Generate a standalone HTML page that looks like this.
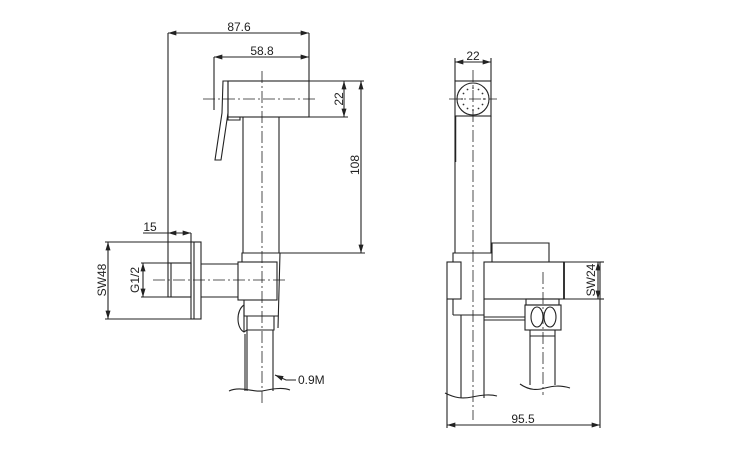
<!DOCTYPE html>
<html><head><meta charset="utf-8"><style>
html,body{margin:0;padding:0;background:#fff;}
svg{display:block;}
text{font-family:"Liberation Sans",sans-serif;font-size:12px;fill:#222;}
</style></head><body>
<svg width="740" height="460" viewBox="0 0 740 460" xmlns="http://www.w3.org/2000/svg">
<defs>
<marker id="a" viewBox="0 0 10 6" refX="10" refY="3" markerWidth="9" markerHeight="5" orient="auto-start-reverse" markerUnits="userSpaceOnUse"><path d="M0,0L10,3L0,6z" fill="#222"/></marker>
</defs>
<g fill="none" stroke="#222" stroke-width="1.1">
<line x1="168" y1="33" x2="309" y2="33" marker-start="url(#a)" marker-end="url(#a)"/>
<line x1="168" y1="33" x2="168" y2="263"/>
<line x1="309" y1="33" x2="309" y2="81"/>
<line x1="214" y1="57" x2="309" y2="57" marker-start="url(#a)" marker-end="url(#a)"/>
<line x1="214" y1="57" x2="214" y2="110"/>
<line x1="309" y1="81" x2="364" y2="81"/>
<line x1="309" y1="117" x2="348" y2="117"/>
<line x1="344" y1="81" x2="344" y2="117" marker-start="url(#a)" marker-end="url(#a)"/>
<line x1="361" y1="81" x2="361" y2="253" marker-start="url(#a)" marker-end="url(#a)"/>
<line x1="280" y1="253" x2="365" y2="253"/>
<line x1="143" y1="233" x2="168" y2="233"/>
<line x1="168" y1="233" x2="191" y2="233" marker-start="url(#a)" marker-end="url(#a)"/>
<line x1="191" y1="233" x2="191" y2="242"/>
<line x1="105" y1="242" x2="191" y2="242"/>
<line x1="105" y1="319" x2="191" y2="319"/>
<line x1="108" y1="242" x2="108" y2="319" marker-start="url(#a)" marker-end="url(#a)"/>
<line x1="141" y1="263" x2="168" y2="263"/>
<line x1="141" y1="297" x2="168" y2="297"/>
<line x1="143" y1="263" x2="143" y2="297" marker-start="url(#a)" marker-end="url(#a)"/>
<rect x="228" y="81" width="81" height="36"/>
<path d="M223,81 L228,81 L228,113 L221,160 L215,160 L222,113 Z"/>
<path d="M228,117 L228,120 L240,120 L240,117"/>
<line x1="243" y1="117" x2="243" y2="253"/>
<line x1="279" y1="117" x2="279" y2="253"/>
<rect x="191" y="242" width="10" height="77"/>
<line x1="194" y1="242" x2="194" y2="319"/>
<rect x="168" y="263" width="23" height="34"/>
<line x1="171" y1="263" x2="171" y2="297"/>
<line x1="201" y1="264" x2="238" y2="264"/>
<line x1="201" y1="297" x2="238" y2="297"/>
<path d="M238,262 L242,262 L242,253 L280,253 L278,328"/>
<rect x="238" y="262" width="39" height="38"/>
<path d="M244,300 L244,316 L278,316"/>
<path d="M247,316 L247,330 L274,330 L274,316"/>
<path d="M244,305 C236,310 236,328 244,332 L247,330"/>
<line x1="244" y1="305" x2="244" y2="332"/>
<line x1="247" y1="330" x2="247" y2="391"/>
<line x1="245" y1="334" x2="245" y2="391"/>
<line x1="273" y1="330" x2="273" y2="391"/>
<path d="M229,391 C240,386 252,392 262,391 C272,389 282,387 290,390"/>
<path d="M296,380 L286,380 L275,375" marker-end="url(#a)"/>
<g stroke-dasharray="12,3,2,3" stroke-width="0.8">
<line x1="262" y1="71" x2="262" y2="405"/>
<line x1="203" y1="99" x2="318" y2="99"/>
<line x1="153" y1="280" x2="287" y2="280"/>
<line x1="473" y1="70" x2="473" y2="420"/>
<line x1="449" y1="99" x2="497" y2="99"/>
<line x1="543" y1="272" x2="543" y2="395"/>
</g>
<line x1="455" y1="62" x2="491" y2="62" marker-start="url(#a)" marker-end="url(#a)"/>
<line x1="455" y1="58" x2="455" y2="81"/>
<line x1="491" y1="58" x2="491" y2="81"/>
<rect x="455" y="81" width="36" height="35"/>
<circle cx="473" cy="99" r="16"/>
<line x1="455" y1="116" x2="455" y2="253"/>
<line x1="491" y1="116" x2="491" y2="253"/>
<line x1="455.5" y1="116" x2="455.5" y2="162" stroke-width="1.5"/>
<path d="M492,253 L492,243 L549,243 L549,262"/>
<path d="M453,262 L453,253 L492,253 L492,262"/>
<rect x="447" y="262" width="14" height="37"/>
<line x1="453" y1="299" x2="453" y2="315"/>
<rect x="484" y="262" width="80" height="37"/>
<line x1="564" y1="262" x2="564" y2="299" stroke-width="1.8"/>
<path d="M564,262 L600,262 L600,299 L564,299"/>
<path d="M484,299 L484,315 L453,315"/>
<line x1="461" y1="315" x2="461" y2="398"/>
<line x1="484" y1="315" x2="484" y2="398"/>
<path d="M445,393 C455,398 462,399 472,397 C482,395 490,394 497,396"/>
<line x1="484" y1="317" x2="525" y2="317"/>
<line x1="484" y1="320" x2="525" y2="320"/>
<rect x="526" y="299" width="33" height="6"/>
<rect x="525" y="305" width="36" height="25"/>
<ellipse cx="537" cy="317" rx="6" ry="10"/>
<ellipse cx="550" cy="317" rx="6" ry="10"/>
<line x1="530" y1="330" x2="530" y2="385"/>
<line x1="555" y1="330" x2="555" y2="385"/>
<line x1="530" y1="336" x2="555" y2="336"/>
<path d="M520,384 C530,391 538,390 545,388 C553,386 560,385 570,388"/>
<line x1="600" y1="262" x2="604" y2="262"/>
<line x1="600" y1="299" x2="604" y2="299"/>
<line x1="598" y1="262" x2="598" y2="299" marker-start="url(#a)" marker-end="url(#a)"/>
<line x1="447" y1="299" x2="447" y2="428"/>
<line x1="600" y1="299" x2="600" y2="428"/>
<line x1="447" y1="425" x2="600" y2="425" marker-start="url(#a)" marker-end="url(#a)"/>
</g>
<g fill="#333">
<circle cx="473" cy="88" r="0.9"/><circle cx="478.5" cy="89.5" r="0.9"/><circle cx="482.5" cy="93.5" r="0.9"/><circle cx="484" cy="99" r="0.9"/><circle cx="482.5" cy="104.5" r="0.9"/><circle cx="478.5" cy="108.5" r="0.9"/><circle cx="473" cy="110" r="0.9"/><circle cx="467.5" cy="108.5" r="0.9"/><circle cx="463.5" cy="104.5" r="0.9"/><circle cx="462" cy="99" r="0.9"/><circle cx="463.5" cy="93.5" r="0.9"/><circle cx="467.5" cy="89.5" r="0.9"/>
</g>
<text x="239" y="31" text-anchor="middle">87.6</text>
<text x="262" y="55" text-anchor="middle">58.8</text>
<text x="150" y="231" text-anchor="middle">15</text>
<text x="298" y="384">0.9M</text>
<text x="473" y="60" text-anchor="middle">22</text>
<text x="523" y="423" text-anchor="middle">95.5</text>
<text transform="translate(343,99) rotate(-90)" text-anchor="middle">22</text>
<text transform="translate(359,165) rotate(-90)" text-anchor="middle">108</text>
<text transform="translate(106,280) rotate(-90)" text-anchor="middle">SW48</text>
<text transform="translate(139,280) rotate(-90)" text-anchor="middle">G1/2</text>
<text transform="translate(595,280) rotate(-90)" text-anchor="middle">SW24</text>
</svg>
</body></html>
